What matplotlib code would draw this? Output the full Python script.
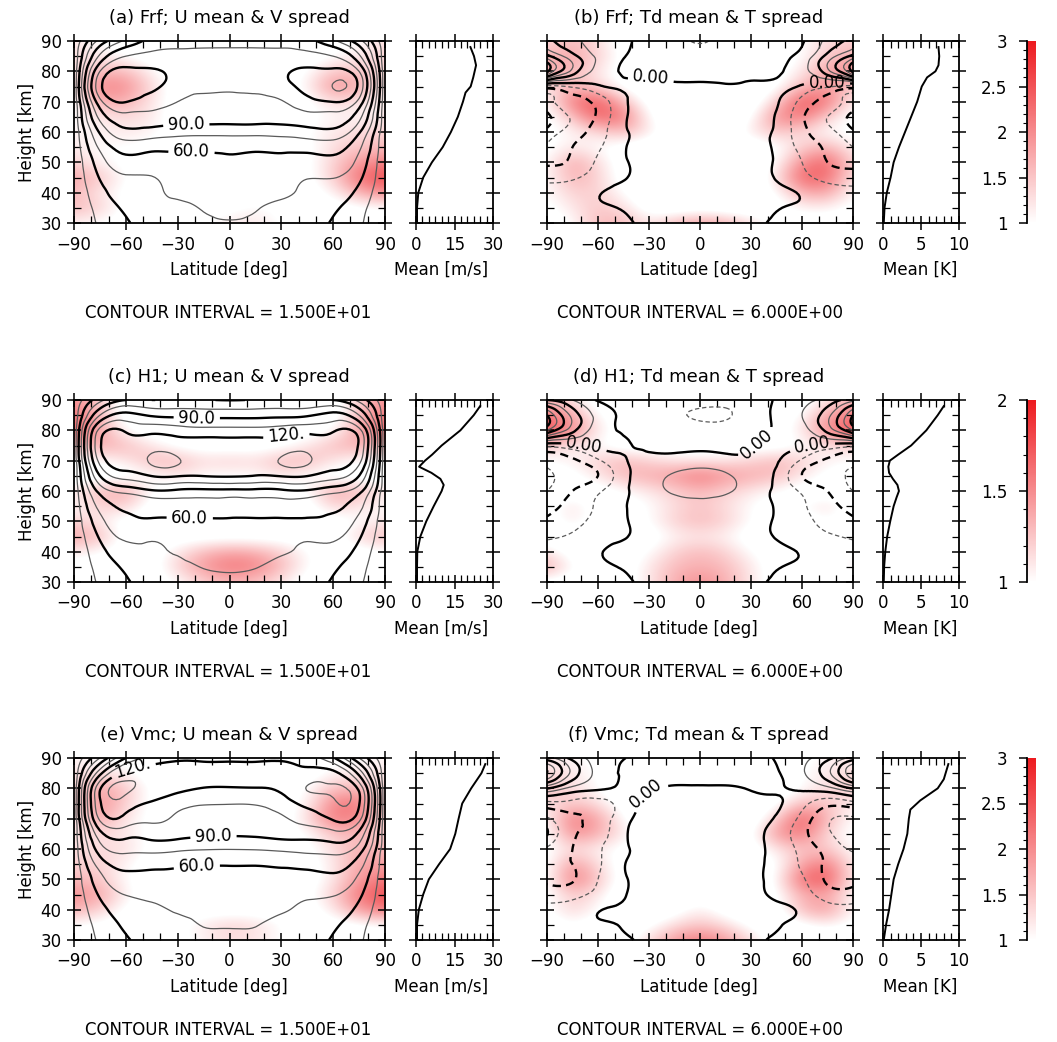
import numpy as np
import matplotlib
matplotlib.use("Agg")
import matplotlib.pyplot as plt
from matplotlib.colors import LinearSegmentedColormap, Normalize
from matplotlib.ticker import MultipleLocator
import matplotlib.cm as cm
import matplotlib.tri as mtri

plt.rcParams['font.family'] = ['DejaVu Sans']

# ---------------- grid ----------------
lat = [-90, -75, -60, -45, -30, -15, 0, 15, 30, 45, 60, 75, 90]
hgt = [30, 35, 40, 45, 50, 55, 60, 65, 70, 75, 80, 85, 90]

# all 2-D fields are written from 90 km (first row) down to 30 km (last row)
# (a) Frf  U mean
U_frf = [
    [2, 50, 78, 95, 100, 100, 100, 100, 100, 95, 78, 50, 2],
    [2, 78, 105, 110, 110, 110, 110, 110, 110, 110, 105, 78, 2],
    [2, 105, 124, 122, 116, 113, 112, 113, 117, 123, 124, 105, 2],
    [2, 116, 128, 123, 112, 108, 107, 108, 114, 125, 135.5, 116, 2],
    [2, 100, 120.5, 113, 105, 103, 103, 103, 104, 115, 120.5, 100, 2],
    [2, 80, 100, 100, 97, 97, 97, 97, 96, 100, 100, 80, 2],
    [2, 62, 86, 84, 81, 80, 80, 80, 81, 84, 86, 62, 2],
    [2, 48, 66, 64, 63, 63, 64, 63, 64, 65, 66, 48, 2],
    [2, 38, 55, 53, 56, 56, 57, 56, 56, 54, 56, 40, 2],
    [2, 31, 43, 44.5, 50, 52, 53, 52, 50, 45.5, 45.5, 33, 2],
    [2, 25, 38, 43, 47, 49, 50, 49, 47, 43, 39, 26, 2],
    [2, 20, 33, 41, 42, 46, 48, 46, 42, 41, 33, 20, 2],
    [2, 17, 28, 37, 37, 42, 44, 42, 37, 37, 28, 17, 2],
]
# (a) Frf  V spread
V_frf = [
    [1.2, 1.0, 0.8, 0.8, 0.8, 0.8, 0.8, 0.8, 0.8, 0.8, 0.9, 1.0, 1.3],
    [1.3, 1.2, 1.0, 0.8, 0.8, 0.8, 0.8, 0.8, 0.8, 0.8, 1.0, 1.2, 1.4],
    [1.2, 1.6, 1.6, 1.1, 0.8, 0.8, 0.8, 0.8, 0.8, 1.0, 1.5, 1.5, 1.3],
    [1.1, 2.1, 2.0, 1.3, 0.8, 0.8, 0.8, 0.8, 0.8, 1.1, 2.0, 1.7, 1.2],
    [1.0, 1.7, 1.7, 1.2, 0.8, 0.8, 0.8, 0.8, 0.8, 0.9, 1.3, 1.2, 1.1],
    [1.0, 1.2, 1.3, 1.2, 0.8, 0.8, 0.8, 0.8, 0.8, 0.9, 1.1, 1.1, 1.2],
    [1.1, 1.1, 1.2, 1.1, 0.8, 0.8, 0.8, 0.8, 0.8, 1.0, 1.2, 1.3, 1.4],
    [1.2, 1.0, 1.0, 0.9, 0.8, 0.8, 0.8, 0.8, 0.8, 0.9, 1.3, 1.5, 1.6],
    [1.4, 1.1, 0.9, 0.8, 0.8, 0.8, 0.8, 0.8, 0.8, 0.9, 1.4, 1.9, 2.1],
    [1.8, 1.5, 1.0, 0.8, 0.8, 0.8, 0.8, 0.8, 0.8, 0.9, 1.4, 2.3, 2.6],
    [1.6, 1.2, 0.9, 0.8, 0.8, 0.8, 0.8, 0.8, 0.8, 0.8, 1.1, 1.7, 2.0],
    [1.6, 1.4, 0.9, 0.8, 0.8, 0.8, 0.9, 1.1, 0.9, 0.8, 0.8, 0.9, 1.0],
    [1.1, 1.0, 0.8, 0.8, 0.8, 1.0, 1.2, 1.2, 1.0, 0.8, 0.8, 0.8, 0.8],
]
# (b) Frf  Td mean
Td_frf = [
    [14, 8, 3, 1, -2, -4, -6.5, -4, -3, -2, -0.5, 8, 14],
    [26, 14, 5, 0.3, -2, -3, -4, -3, -2, -1.5, 2, 14, 26],
    [38, 16, 4, -0.5, -1, -2, -2, -2, -1.5, -1, 4, 16, 38],
    [-8, -5, -1, 0.5, 1, 0.8, 0.6, 0.4, 0.6, 1, -1, -5, -8],
    [-20, -14, -10, -1, 1, 1.5, 1.5, 1.5, 1, 0.5, -8, -14, -20],
    [-26, -17, -11, -1, 1.5, 2, 2, 2, 1.5, -0.5, -11, -18, -26],
    [-22, -15, -9, -1, 1.5, 2, 2, 2, 1.5, -1, -10, -16, -23],
    [-17, -12, -7, -0.5, 1.5, 2, 2, 2, 1.5, -1, -8, -13, -18],
    [-13, -11, -5, -0.5, 1.5, 2, 2, 2, 1.5, -0.5, -6, -12, -14],
    [-8, -7, -3, -0.3, 1.5, 2, 2, 2, 1.5, -0.3, -4, -8, -9],
    [-3, -2, -0.3, 1, 1.5, 2, 2, 2, 1.5, 1, -0.5, -3, -4],
    [-1, -0.5, -0.5, 0.3, 1.5, 2, 2, 2, 1.5, 0.3, -0.5, -0.5, -1],
    [-0.5, -0.5, -0.5, -0.5, 1, 2, 2, 2, 1, -0.5, -0.5, -0.5, -0.5],
]
# (b) Frf  T spread
T_frf = [
    [1.3, 1.6, 1.3, 0.8, 0.7, 0.7, 0.7, 0.7, 0.7, 0.8, 1.0, 1.3, 1.4],
    [1.6, 1.8, 1.4, 0.9, 0.7, 0.7, 0.7, 0.7, 0.7, 0.8, 1.0, 1.5, 1.7],
    [1.8, 1.6, 1.2, 0.8, 0.7, 0.7, 0.7, 0.7, 0.7, 0.8, 1.2, 1.8, 2.0],
    [1.2, 1.6, 1.4, 0.9, 0.7, 0.7, 0.7, 0.7, 0.7, 0.9, 1.6, 1.9, 1.4],
    [1.0, 2.2, 2.5, 1.6, 0.8, 0.7, 0.7, 0.7, 0.7, 1.4, 2.5, 2.2, 1.1],
    [0.9, 1.5, 2.4, 2.2, 1.0, 0.7, 0.7, 0.7, 0.9, 2.0, 2.2, 1.4, 0.9],
    [0.9, 1.1, 1.3, 1.6, 1.2, 0.7, 0.7, 0.7, 1.2, 1.5, 1.3, 1.0, 0.9],
    [0.9, 1.2, 1.0, 0.8, 0.7, 0.7, 0.7, 0.7, 0.7, 0.9, 1.4, 1.7, 1.1],
    [1.0, 1.8, 1.3, 0.8, 0.7, 0.7, 1.15, 0.7, 0.7, 1.0, 2.0, 2.4, 1.3],
    [1.0, 1.7, 1.4, 0.8, 0.7, 0.7, 0.7, 0.7, 0.7, 1.2, 2.4, 2.3, 1.2],
    [1.0, 1.4, 1.4, 1.0, 0.7, 0.7, 1.1, 0.8, 0.7, 1.0, 1.7, 1.8, 1.0],
    [0.9, 1.2, 1.5, 1.3, 0.8, 0.7, 0.7, 0.7, 0.7, 0.8, 1.1, 1.1, 0.9],
    [0.8, 1.0, 1.6, 1.6, 1.2, 1.6, 1.9, 1.7, 1.3, 0.9, 0.8, 0.8, 0.8],
]
# (c) H1  U mean
U_h1 = [
    [2, 40, 60, 60, 62, 61, 59.5, 61, 62, 60, 60, 40, 2],
    [2, 75, 95, 88, 86, 85, 85, 85, 86, 88, 95, 75, 2],
    [2, 110, 118, 115, 112, 110, 110, 110, 112, 115, 118, 110, 2],
    [2, 118, 128, 130, 128, 127, 126, 127, 128, 130, 128, 118, 2],
    [2, 110, 128, 137, 136, 130, 128, 130, 136, 137, 128, 110, 2],
    [2, 90, 112, 120.5, 121, 120.5, 121.5, 119.5, 121, 120.5, 112, 90, 2],
    [2, 65, 80, 88, 87, 86, 86, 86, 87, 88, 80, 65, 2],
    [2, 50, 62, 66, 68, 68, 68, 68, 68, 66, 62, 50, 2],
    [2, 40, 57, 58, 58, 58, 58, 58, 58, 58, 57, 40, 2],
    [2, 32, 48, 47, 51, 53, 54, 53, 51, 47, 48, 32, 2],
    [2, 25, 40, 44, 46, 49, 50, 49, 46, 44, 40, 25, 2],
    [2, 20, 33, 42, 43, 45.5, 47, 45.5, 43, 42, 33, 20, 2],
    [2, 17, 28, 37, 38, 40, 40, 40, 38, 37, 28, 17, 2],
]
# (c) H1  V spread
V_h1 = [
    [1.5, 1.2, 0.9, 0.9, 0.9, 0.9, 0.9, 0.9, 0.9, 0.9, 0.9, 1.2, 1.5],
    [1.6, 1.3, 0.9, 0.9, 0.9, 0.9, 0.9, 0.9, 0.9, 0.9, 0.9, 1.3, 1.6],
    [1.7, 1.4, 1.0, 0.9, 0.9, 0.9, 0.9, 0.9, 0.9, 0.9, 1.0, 1.4, 1.7],
    [1.3, 1.35, 1.3, 1.1, 0.95, 0.9, 0.9, 0.9, 0.95, 1.1, 1.3, 1.35, 1.3],
    [1.0, 1.0, 1.1, 1.3, 1.3, 1.15, 1.2, 1.15, 1.3, 1.3, 1.1, 1.0, 1.0],
    [0.9, 0.9, 0.9, 1.0, 1.1, 1.0, 1.0, 1.0, 1.1, 1.0, 0.9, 0.9, 0.9],
    [1.1, 1.3, 1.4, 1.0, 0.9, 0.9, 0.9, 0.9, 0.9, 1.0, 1.4, 1.3, 1.1],
    [1.0, 1.2, 1.2, 0.9, 0.9, 0.9, 0.9, 0.9, 0.9, 0.9, 1.2, 1.1, 1.0],
    [1.2, 1.1, 0.9, 0.9, 0.9, 0.9, 0.9, 0.9, 0.9, 0.9, 0.9, 1.0, 1.1],
    [1.4, 1.3, 0.9, 0.9, 0.9, 0.9, 0.9, 0.9, 0.9, 0.9, 0.9, 1.2, 1.3],
    [1.1, 1.0, 0.9, 0.9, 1.1, 1.3, 1.4, 1.35, 1.2, 1.0, 0.9, 0.9, 1.0],
    [0.9, 0.9, 0.9, 0.9, 1.2, 1.45, 1.6, 1.55, 1.3, 1.0, 0.9, 0.9, 0.9],
    [0.9, 0.9, 0.9, 0.9, 1.0, 1.2, 1.3, 1.25, 1.1, 0.9, 0.9, 0.9, 0.9],
]
# (d) H1  Td mean
Td_h1 = [
    [12, 6, -0.5, -1, -2, -3, -3, -3, -2, 0.5, 4, 8, 16],
    [36, 16, 4, -1, -3, -5, -6.8, -6.8, -3, 1, 6, 16, 36],
    [30, 14, 3, -0.5, -2, -3, -3.5, -3, -1.5, 0.5, 4, 14, 30],
    [-4, -2, 1, 0.5, -0.5, -1, -1, -1, -0.3, 1, 0.5, -2, -4],
    [-16, -13, -7, -0.5, 1, 2, 3, 2, 1, 0.5, -7, -13, -16],
    [-20, -15, -12, -2, 3, 7, 8.5, 7, 3, -1, -12, -15, -20],
    [-18, -12, -7, -1, 3, 7, 8, 7, 3, -1, -7, -12, -18],
    [-14, -10, -5, -0.5, 2, 3, 4, 3, 2, -0.5, -5, -10, -14],
    [-11, -8, -4, -0.5, 1.5, 2, 2, 2, 1.5, -0.5, -4, -8, -11],
    [-7, -5, -2, -0.3, 1.5, 2, 2, 2, 1.5, -0.3, -2.5, -5, -7],
    [-3, -1.5, -0.3, 1, 1.5, 2, 2, 2, 1.5, 1, -0.3, -1.5, -3],
    [-1, -0.5, -0.5, 0.3, 1.5, 2, 2, 2, 1.5, 0.3, -0.5, -0.5, -1],
    [-0.3, -0.3, -0.5, -0.5, 1, 2, 2, 2, 1, -0.5, -0.5, -0.3, -0.3],
]
# (d) H1  T spread
T_h1 = [
    [1.3, 1.1, 0.9, 0.9, 0.9, 0.9, 0.9, 0.9, 0.9, 0.9, 0.9, 1.1, 1.3],
    [1.6, 1.4, 1.0, 0.9, 0.9, 0.9, 0.9, 0.9, 0.9, 0.9, 1.0, 1.4, 1.6],
    [1.8, 1.5, 1.1, 0.9, 0.9, 0.9, 0.9, 0.9, 0.9, 0.9, 1.1, 1.5, 1.8],
    [1.2, 1.1, 1.0, 0.9, 0.9, 0.9, 0.9, 0.9, 0.9, 0.9, 1.0, 1.1, 1.2],
    [1.0, 1.05, 1.2, 1.3, 1.2, 1.1, 1.1, 1.1, 1.2, 1.3, 1.2, 1.05, 1.0],
    [0.9, 0.95, 1.1, 1.3, 1.35, 1.45, 1.6, 1.45, 1.35, 1.3, 1.1, 0.95, 0.9],
    [0.9, 0.9, 0.9, 1.0, 1.1, 1.2, 1.3, 1.2, 1.1, 1.0, 0.9, 0.9, 0.9],
    [0.9, 1.15, 0.9, 0.9, 1.0, 1.15, 1.25, 1.15, 1.0, 0.9, 1.0, 1.15, 0.9],
    [0.9, 1.1, 0.9, 0.9, 1.0, 1.2, 1.3, 1.2, 1.0, 0.9, 0.9, 1.0, 0.9],
    [0.9, 0.9, 0.9, 0.9, 0.9, 1.05, 1.1, 1.05, 0.9, 0.9, 0.9, 0.9, 0.9],
    [1.1, 0.9, 0.9, 0.9, 1.0, 1.2, 1.3, 1.2, 1.0, 0.9, 0.9, 0.9, 1.0],
    [1.4, 1.0, 0.9, 0.9, 1.1, 1.3, 1.35, 1.3, 1.1, 0.9, 0.9, 0.9, 1.1],
    [0.9, 0.9, 0.9, 0.9, 1.1, 1.35, 1.5, 1.35, 1.1, 0.9, 0.9, 0.9, 0.9],
]
# (e) Vmc  U mean
U_vmc = [
    [2, 45, 90, 112, 118, 118, 118, 118, 118, 112, 92, 45, 2],
    [2, 85, 125, 128, 126, 124, 124, 124, 125, 126, 124, 85, 2],
    [2, 118, 138, 130, 124, 119.5, 119, 119.5, 123, 135.5, 137, 116, 2],
    [2, 118, 128, 118, 110, 106, 105.5, 106, 112, 124, 132, 121, 2],
    [2, 108, 115, 108, 103, 101, 100, 101, 103, 112, 122, 110, 2],
    [2, 85, 95, 96, 95, 93, 92, 93, 95, 96, 100, 86, 2],
    [2, 68, 80, 80, 78, 76, 75.5, 76, 78, 80, 82, 68, 2],
    [2, 52, 65, 64, 62, 61, 61, 61, 62, 64, 66, 52, 2],
    [2, 40, 55, 55, 56, 55, 55, 55, 56, 55, 56, 41, 2],
    [2, 32, 45.5, 48, 50, 52, 52, 52, 50, 47, 46, 33, 2],
    [2, 25, 38, 43, 46, 48, 49, 48, 46, 43, 39, 26, 2],
    [2, 20, 33, 41, 42, 45.5, 46, 45.5, 42, 41, 33, 20, 2],
    [2, 17, 28, 37, 37, 40, 41, 40, 37, 37, 28, 17, 2],
]
# (e) Vmc  V spread
V_vmc = [
    [1.1, 1.0, 0.9, 0.8, 0.8, 0.8, 0.8, 0.8, 0.8, 0.8, 0.9, 1.0, 1.1],
    [1.2, 1.3, 1.1, 0.8, 0.8, 0.8, 0.8, 0.8, 0.8, 0.8, 1.1, 1.2, 1.2],
    [1.3, 1.8, 1.5, 0.9, 0.8, 0.8, 0.8, 0.8, 0.8, 1.0, 1.6, 1.6, 1.3],
    [1.3, 2.0, 1.4, 0.9, 0.8, 0.8, 0.8, 0.8, 0.8, 1.1, 2.1, 2.2, 1.3],
    [1.2, 1.8, 1.2, 0.9, 0.8, 0.8, 0.8, 0.8, 0.8, 1.3, 2.2, 2.0, 1.3],
    [1.2, 1.3, 1.2, 0.9, 0.8, 0.8, 0.8, 0.8, 0.8, 1.0, 1.5, 1.6, 1.4],
    [1.3, 1.3, 1.3, 0.9, 0.8, 0.8, 0.8, 0.8, 0.8, 0.9, 1.3, 1.7, 1.6],
    [1.4, 1.4, 1.1, 0.8, 0.8, 0.8, 0.8, 0.8, 0.8, 0.8, 1.2, 1.8, 1.8],
    [1.6, 1.5, 1.0, 0.8, 0.8, 0.8, 0.8, 0.8, 0.8, 0.8, 1.2, 1.9, 2.2],
    [2.0, 1.8, 1.1, 0.8, 0.8, 0.8, 0.8, 0.8, 0.8, 0.9, 1.4, 2.2, 2.6],
    [1.7, 1.4, 0.9, 0.8, 0.8, 0.8, 0.8, 0.8, 0.8, 0.8, 1.2, 1.9, 2.2],
    [1.0, 0.9, 0.8, 0.8, 0.9, 1.2, 1.4, 1.3, 1.0, 0.8, 0.8, 0.9, 1.0],
    [0.8, 0.8, 0.8, 0.8, 0.9, 1.1, 1.3, 1.2, 1.0, 0.8, 0.8, 0.8, 0.8],
]
# (f) Vmc  Td mean
Td_vmc = [
    [20, 10, 3, 0.2, -2, -2, -2, -2, -2, 0.5, 4, 10, 20],
    [36, 16, 4, -0.5, -2, -2, -2, -2, -2, -0.5, 5, 16, 36],
    [12.5, 4, 1, -1, -0.5, 0.5, 0.5, 0.5, -0.3, -0.5, 1, 4, 12.5],
    [-8, -8, -9, -3, 1, 1.5, 1.5, 1.5, 1, 0.5, -4, -10, -8],
    [-19, -13, -10, -2, 1.5, 2, 2, 2, 1.5, -0.5, -8, -17, -19],
    [-24.5, -13, -9, -1, 1.5, 2, 2, 2, 1, -2, -10, -17, -22],
    [-17, -12, -7, -1, 1.5, 2, 2, 2, 1, -1.5, -8, -14, -19],
    [-15, -12, -7, -0.3, 1.5, 2, 2, 2, 1, -1.5, -7, -13, -15],
    [-13, -12.5, -6, -0.5, 1.5, 2, 2, 2, 1, -1, -5, -13, -13.5],
    [-9, -8, -4, -0.3, 1.5, 2, 2, 2, 1, -0.5, -3, -9, -9.5],
    [-4, -3, -0.3, 0.5, 1.5, 2, 2, 2, 1.5, 0.5, -0.5, -3.5, -4],
    [-1.5, -0.5, -0.5, 0.3, 1.5, 2, 2, 2, 1.5, 0.3, -0.5, -0.5, -1.5],
    [-0.5, -0.3, -0.5, -0.5, 1, 2, 2, 2, 1, -0.5, -0.5, -0.3, -0.5],
]
# (f) Vmc  T spread
T_vmc = [
    [1.2, 1.1, 0.9, 0.7, 0.7, 0.7, 0.7, 0.7, 0.7, 0.7, 0.9, 1.1, 1.2],
    [1.3, 1.2, 1.0, 0.7, 0.7, 0.7, 0.7, 0.7, 0.7, 0.7, 1.0, 1.2, 1.3],
    [1.6, 1.3, 1.0, 0.7, 0.7, 0.7, 0.7, 0.7, 0.7, 0.7, 1.0, 1.3, 1.5],
    [1.2, 1.5, 1.3, 0.8, 0.7, 0.7, 0.7, 0.7, 0.7, 0.9, 1.6, 1.5, 1.1],
    [1.0, 2.2, 1.8, 1.0, 0.7, 0.7, 0.7, 0.7, 0.7, 1.4, 2.5, 1.6, 1.0],
    [0.9, 2.0, 1.7, 1.2, 0.7, 0.7, 0.7, 0.7, 0.9, 1.9, 2.2, 1.3, 0.9],
    [0.9, 1.3, 1.1, 0.9, 0.7, 0.7, 0.7, 0.7, 0.8, 1.2, 1.5, 1.5, 1.0],
    [0.9, 1.9, 1.3, 0.8, 0.7, 0.7, 0.8, 0.7, 0.7, 0.9, 1.8, 2.2, 1.1],
    [0.9, 2.2, 1.5, 0.8, 0.7, 0.7, 1.25, 0.7, 0.7, 1.0, 2.3, 2.5, 1.1],
    [0.9, 1.5, 1.2, 0.7, 0.7, 0.7, 0.8, 0.7, 0.7, 0.9, 1.7, 1.8, 1.0],
    [0.9, 1.4, 1.0, 0.7, 0.7, 0.8, 1.2, 0.8, 0.7, 0.8, 1.6, 1.9, 1.0],
    [0.8, 1.0, 0.8, 0.7, 0.9, 1.3, 1.5, 1.3, 0.9, 0.7, 0.9, 1.1, 0.9],
    [0.7, 0.8, 0.7, 0.8, 1.3, 1.9, 2.2, 1.9, 1.3, 0.8, 0.7, 0.7, 0.7],
]

# ---------------- global-mean profiles ----------------
prof_a_h = [30, 35, 40, 45, 50, 55, 60, 65, 70, 73, 75, 78, 82, 85, 88]
prof_a_v = [0.4, 0.4, 0.9, 2.8, 6.2, 10.4, 13.6, 16.3, 18.3, 19.3, 21.3, 22.3, 23.4, 22.6, 21.2]
prof_b_h = [30, 35, 40, 45, 50, 55, 60, 65, 70, 75, 78, 80, 82, 85, 88]
prof_b_v = [0.1, 0.2, 0.5, 1.0, 1.4, 2.1, 2.9, 3.7, 4.5, 5.1, 5.8, 6.9, 7.3, 7.4, 7.3]
prof_c_h = [30, 35, 40, 45, 50, 55, 60, 62, 64, 66, 68, 70, 72, 75, 80, 85, 88]
prof_c_v = [0.4, 0.4, 0.5, 1.7, 4.0, 6.9, 10.0, 10.8, 9.5, 6.0, 1.2, 3.5, 6.3, 10.0, 17.3, 22.5, 25.0]
prof_d_h = [30, 35, 40, 45, 50, 55, 58, 60, 62, 64, 66, 68, 70, 72, 75, 80, 85, 88]
prof_d_v = [0.1, 0.15, 0.3, 0.55, 0.95, 1.4, 1.8, 2.1, 1.9, 1.3, 0.8, 0.7, 0.9, 2.0, 3.7, 5.7, 7.2, 8.0]
prof_e_h = [30, 35, 40, 45, 50, 55, 60, 65, 70, 75, 80, 85, 88]
prof_e_v = [0.4, 0.4, 1.1, 2.8, 5.0, 9.0, 13.3, 15.3, 16.6, 18.0, 21.5, 25.5, 27.0]
prof_f_h = [30, 35, 40, 45, 50, 55, 60, 65, 70, 73, 76, 80, 83, 88]
prof_f_v = [0.1, 0.4, 0.8, 1.1, 1.4, 2.0, 2.7, 3.2, 3.4, 3.6, 4.9, 7.2, 8.0, 8.6]

titles_left = ["(a) Frf; U mean & V spread", "(c) H1; U mean & V spread", "(e) Vmc; U mean & V spread"]
titles_right = ["(b) Frf; Td mean & T spread", "(d) H1; Td mean & T spread", "(f) Vmc; Td mean & T spread"]
cbar_max = [3, 2, 3]
cbar_ticks = [[1, 1.5, 2, 2.5, 3], [1, 1.5, 2], [1, 1.5, 2, 2.5, 3]]
ci_u = "CONTOUR INTERVAL = 1.500E+01"
ci_t = "CONTOUR INTERVAL = 6.000E+00"

# ---------------- drawing ----------------
W, H = 1057, 1042
FS = 12
fig = plt.figure(figsize=(W / 100, H / 100), dpi=100)
cmap = LinearSegmentedColormap.from_list("wr", [(1, 1, 1), (0.93, 0.10, 0.12)])
cmap.set_under('white')

LON, HGT = np.meshgrid(np.array(lat, float), np.array(hgt, float))
tri = mtri.Triangulation(LON.ravel(), HGT.ravel())
refiner = mtri.UniformTriRefiner(tri)


def rect(x0, y0, x1, y1):
    return [x0 / W, 1 - y1 / H, (x1 - x0) / W, (y1 - y0) / H]


def gfmt(v):
    a = abs(v)
    if a < 1e-9:
        return "0.00"
    if a >= 100:
        return "%d." % round(v)
    if a >= 10:
        return "%.1f" % v
    return "%.2f" % v


def style_frame(ax):
    for s in ax.spines.values():
        s.set_linewidth(1.3)
    ax.tick_params(which='both', top=True, right=True, labelsize=FS, pad=4)
    ax.tick_params(which='major', direction='inout', length=10, width=1.1)
    ax.tick_params(which='minor', direction='in', length=5, width=0.9)


def contour_set(ax, rtri, rz, levels, step):
    thick = [int(round(l / step)) % 2 == 0 for l in levels]
    colors = ['k' if t else '#5a5a5a' for t in thick]
    lws = [1.7 if t else 0.9 for t in thick]
    lss = [(0, (3.5, 2.2)) if l < 0 else 'solid' for l in levels]
    return ax.tricontour(rtri, rz, levels=levels, colors=colors, linewidths=lws,
                         linestyles=lss, zorder=2)


def main_panel(ax, mean, spread, vmax, kind, lab_levels, lab_pos, ylabels):
    sp = np.array(spread, float)[::-1]
    mn = np.array(mean, float)[::-1]
    ax.imshow(sp, extent=[lat[0] - 7.5, lat[-1] + 7.5, hgt[0] - 2.5, hgt[-1] + 2.5],
              origin='lower', aspect='auto', cmap=cmap, norm=Normalize(1, vmax),
              interpolation='bicubic', zorder=0)
    if kind == 'U':
        step = 15
        levels = np.arange(15, 151, 15)
    else:
        step = 6
        levels = np.arange(-30, 49, 6)
    rtri, rz = refiner.refine_field(mn.ravel(), subdiv=3)
    other = [l for l in levels if l not in lab_levels]
    contour_set(ax, rtri, rz, other, step)
    cs = contour_set(ax, rtri, rz, list(lab_levels), step)
    ax.clabel(cs, manual=lab_pos, inline=True, fmt=gfmt,
              fontsize=FS, inline_spacing=3)
    ax.set_xlim(-90, 90)
    ax.set_ylim(30, 90)
    ax.set_xticks(np.arange(-90, 91, 30))
    ax.xaxis.set_minor_locator(MultipleLocator(10))
    ax.set_yticks(np.arange(30, 91, 10))
    ax.yaxis.set_minor_locator(MultipleLocator(5))
    style_frame(ax)
    if not ylabels:
        ax.set_yticklabels([])


def profile_panel(ax, h, v, xmax, xmajor, xminor):
    ax.plot(v, h, color='k', lw=1.4)
    ax.set_xlim(0, xmax)
    ax.set_ylim(30, 90)
    ax.set_xticks(np.arange(0, xmax + 0.1, xmajor))
    ax.xaxis.set_minor_locator(MultipleLocator(xminor))
    ax.set_yticks(np.arange(30, 91, 10))
    ax.yaxis.set_minor_locator(MultipleLocator(5))
    ax.set_yticklabels([])
    style_frame(ax)


tops = [41, 400, 758]
ph = 182
U_fields = [U_frf, U_h1, U_vmc]
V_fields = [V_frf, V_h1, V_vmc]
Td_fields = [Td_frf, Td_h1, Td_vmc]
T_fields = [T_frf, T_h1, T_vmc]
U_profiles = [(prof_a_h, prof_a_v), (prof_c_h, prof_c_v), (prof_e_h, prof_e_v)]
T_profiles = [(prof_b_h, prof_b_v), (prof_d_h, prof_d_v), (prof_f_h, prof_f_v)]

u_labels = [([60, 90], [(-25, 62.3), (-22, 53.5)]),
            ([60, 90, 120], [(-19, 83.4), (33, 78), (-23, 51.8)]),
            ([60, 90, 120], [(-55.6, 85.6), (-9.3, 64.3), (-19, 55.5)])]
t_labels = [([0], [(-29, 77), (74.7, 75.5)]),
            ([0], [(-68.4, 73), (31.6, 75.8), (66, 74)]),
            ([0], [(-33, 80)])]

for r in range(3):
    t = tops[r]
    b = t + ph
    vmax = cbar_max[r]
    # left column
    axL = fig.add_axes(rect(74, t, 385, b))
    main_panel(axL, U_fields[r], V_fields[r], vmax, 'U', u_labels[r][0], u_labels[r][1], True)
    axL.set_ylabel("Height [km]", fontsize=FS, labelpad=3)
    axLp = fig.add_axes(rect(416, t, 493, b))
    profile_panel(axLp, U_profiles[r][0], U_profiles[r][1], 30, 15, 2.5)
    # right column
    axR = fig.add_axes(rect(547, t, 853, b))
    main_panel(axR, Td_fields[r], T_fields[r], vmax, 'T', t_labels[r][0], t_labels[r][1], False)
    axRp = fig.add_axes(rect(883, t, 959, b))
    profile_panel(axRp, T_profiles[r][0], T_profiles[r][1], 10, 5, 1)
    # colour bar
    cax = fig.add_axes(rect(1027, t, 1036, b))
    sm = cm.ScalarMappable(norm=Normalize(1, vmax), cmap=cmap)
    cb = fig.colorbar(sm, cax=cax, ticks=cbar_ticks[r])
    cb.outline.set_visible(False)
    cax.spines['left'].set_visible(True)
    cax.spines['left'].set_linewidth(1.3)
    cax.yaxis.set_ticks_position('left')
    cax.yaxis.set_label_position('left')
    cax.yaxis.set_minor_locator(MultipleLocator(0.1))
    cax.tick_params(which='major', direction='out', length=6, width=1.1, labelsize=FS, pad=8)
    cax.tick_params(which='minor', direction='out', length=3, width=0.8)
    cax.set_yticklabels(["%g" % v for v in cbar_ticks[r]])

    # texts
    fig.text(229 / W, 1 - (t - 23) / H, titles_left[r], ha='center', va='center', fontsize=13)
    fig.text(699 / W, 1 - (t - 23) / H, titles_right[r], ha='center', va='center', fontsize=13)
    fig.text(229 / W, 1 - (b + 47) / H, "Latitude [deg]", ha='center', va='center', fontsize=FS)
    fig.text(699 / W, 1 - (b + 47) / H, "Latitude [deg]", ha='center', va='center', fontsize=FS)
    fig.text(441 / W, 1 - (b + 47) / H, "Mean [m/s]", ha='center', va='center', fontsize=FS)
    fig.text(920 / W, 1 - (b + 47) / H, "Mean [K]", ha='center', va='center', fontsize=FS)
    fig.text(228 / W, 1 - (b + 90) / H, ci_u, ha='center', va='center', fontsize=FS)
    fig.text(700 / W, 1 - (b + 90) / H, ci_t, ha='center', va='center', fontsize=FS)

fig.savefig("out.png", dpi=100)
